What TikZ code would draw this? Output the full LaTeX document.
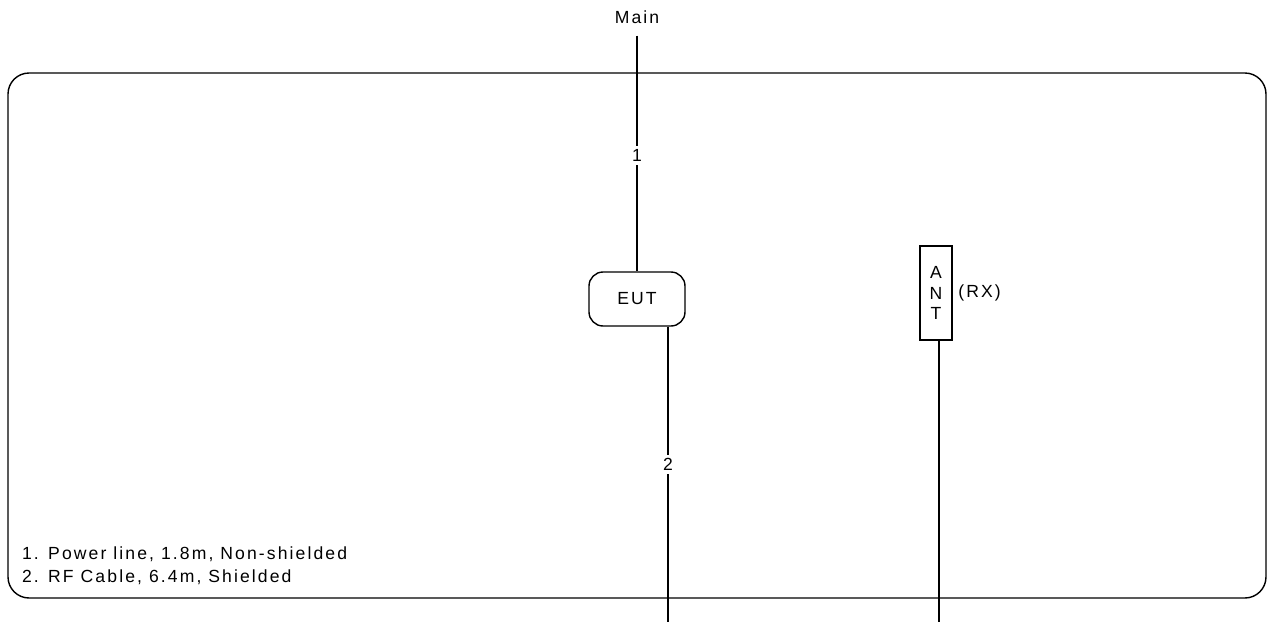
\documentclass[tikz,border=0pt]{standalone}
\usepackage{fontspec}
\setmainfont[LetterSpace = 12]{Liberation Sans}
\begin{document}
\begin{tikzpicture}[x = 0.02cm, y = -0.02cm,
  txt/.style = {font = \fontsize{10}{13}\selectfont, inner sep = 1pt},
  unit/.style = {draw, line width = 0.8, txt},
  cable/.style = {line width = 0.8},
  tag/.style = {txt, fill = white, inner sep = 2pt}
]
\useasboundingbox (0, 0) rectangle (1268, 622);
% test site outline
\draw[line width = 0.8, rounded corners = 12] (8, 73) rectangle (1266, 598);
% units
\node[txt] (main) at (637, 17) {Main};
\node[unit, rounded corners = 8, minimum width = 96*0.02cm, minimum height = 54*0.02cm] (eut) at (637, 299) {EUT};
\node[unit, minimum width = 32*0.02cm, minimum height = 94*0.02cm, align = center,
  font = \fontsize{10}{11.5}\selectfont] (ant) at (936, 293) {A\\N\\T};
\node[txt, anchor = west, inner sep = 3pt] (rx) at (ant.east) {(RX)};
\coordinate (eutout) at (668, 622);
\coordinate (antout) at (939, 622);
% cables
\draw[cable] (main.south) ++(0, 10) coordinate (mainin) -- node[tag, pos = 0.51] {1} (eut.north);
\draw[cable] (eut.south -| eutout) -- node[tag, pos = 0.466] {2} (eutout);
\draw[cable] (ant.south -| antout) -- (antout);
% legend
\node[txt, anchor = west, align = left] (legend) at (20, 566) {1. Power line, 1.8m, Non-shielded\\2. RF Cable, 6.4m, Shielded};
\end{tikzpicture}
\end{document}
